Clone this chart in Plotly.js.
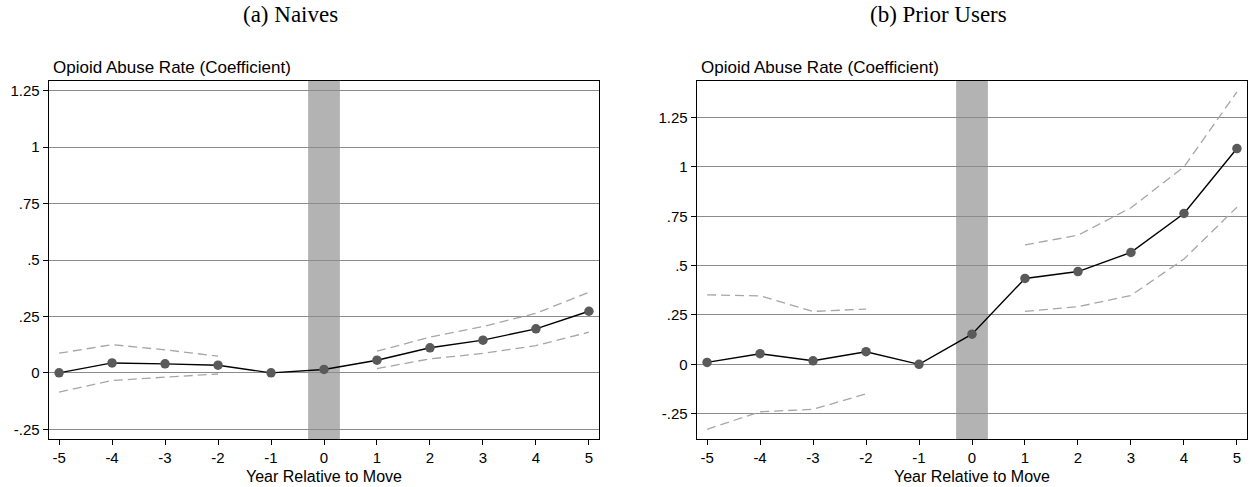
<!DOCTYPE html>
<html>
<head>
<meta charset="utf-8">
<script src="https://cdn.plot.ly/plotly-3.0.1.min.js"></script>
<style>
  html, body { margin: 0; padding: 0; background: #fff; }
  #chart { width: 1252px; height: 487px; }
</style>
</head>
<body>
<div id="chart"></div>
<script>
// years relative to move
var years = [-5, -4, -3, -2, -1, 0, 1, 2, 3, 4, 5]
var pre_years = [-5, -4, -3, -2]
var post_years = [1, 2, 3, 4, 5]

// (a) Naives
var naive_coef = [0, 0.044, 0.040, 0.034, 0, 0.015, 0.056, 0.111, 0.145, 0.195, 0.273]
var naive_pre_hi = [0.087, 0.125, 0.102, 0.074]
var naive_pre_lo = [-0.085, -0.034, -0.019, -0.005]
var naive_post_hi = [0.096, 0.158, 0.205, 0.264, 0.357]
var naive_post_lo = [0.019, 0.062, 0.086, 0.121, 0.180]

// (b) Prior Users
var prior_coef = [0.010, 0.054, 0.018, 0.064, 0, 0.153, 0.435, 0.470, 0.567, 0.764, 1.093]
var prior_pre_hi = [0.352, 0.347, 0.268, 0.280]
var prior_pre_lo = [-0.329, -0.240, -0.228, -0.149]
var prior_post_hi = [0.605, 0.654, 0.793, 1.0, 1.380]
var prior_post_lo = [0.268, 0.292, 0.349, 0.533, 0.796]

var y_tickvals = [-0.25, 0, 0.25, 0.5, 0.75, 1, 1.25]
var y_ticktext = ["-.25", "0", ".25", ".5", ".75", "1", "1.25"]
var x_tickvals = years
var x_ticktext = ["-5", "-4", "-3", "-2", "-1", "0", "1", "2", "3", "4", "5"]

var panel_titles = ["(a) Naives", "(b) Prior Users"]
var y_title = "Opioid Abuse Rate (Coefficient)"
var x_title = "Year Relative to Move"

var ci_line = {color: "#a6a6a6", width: 1.3, dash: "9px,5px"}

function ci_trace(x, y, xa, ya){
    return {x: x, y: y, xaxis: xa, yaxis: ya, mode: "lines", line: ci_line, hoverinfo: "skip"}
}

function coef_trace(y, xa, ya){
    return {
        x: years, y: y, xaxis: xa, yaxis: ya,
        mode: "lines+markers",
        line: {color: "#000000", width: 1.4},
        marker: {color: "#5a5a5a", size: 9.5}
    }
}

var traces = [
    ci_trace(pre_years, naive_pre_hi, "x", "y"),
    ci_trace(pre_years, naive_pre_lo, "x", "y"),
    ci_trace(post_years, naive_post_hi, "x", "y"),
    ci_trace(post_years, naive_post_lo, "x", "y"),
    coef_trace(naive_coef, "x", "y"),
    ci_trace(pre_years, prior_pre_hi, "x2", "y2"),
    ci_trace(pre_years, prior_pre_lo, "x2", "y2"),
    ci_trace(post_years, prior_post_hi, "x2", "y2"),
    ci_trace(post_years, prior_post_lo, "x2", "y2"),
    coef_trace(prior_coef, "x2", "y2")
]

var sans = "Liberation Sans, Arial, sans-serif"
var serif = "Liberation Serif, Times New Roman, serif"
var font_tick = {family: sans, size: 15, color: "#000"}
var font_ytitle = {family: sans, size: 17, color: "#000"}
var font_xtitle = {family: sans, size: 16, color: "#000"}
var font_panel = {family: serif, size: 23, color: "#000"}

function x_axis(domain){
    return {
        domain: domain, range: [-5.19, 5.19],
        tickmode: "array", tickvals: x_tickvals, ticktext: x_ticktext,
        ticks: "outside", ticklen: 5, tickcolor: "#000", tickwidth: 1,
        showgrid: false, zeroline: false,
        showline: true, linecolor: "#000", linewidth: 1.3, mirror: true,
        tickfont: font_tick,
        fixedrange: true
    }
}

function y_axis(domain, range, anchor){
    return {
        domain: domain, range: range, anchor: anchor,
        tickmode: "array", tickvals: y_tickvals, ticktext: y_ticktext,
        ticks: "outside", ticklen: 5, tickcolor: "#000", tickwidth: 1,
        showgrid: true, gridcolor: "#8c8c8c", gridwidth: 1,
        zeroline: false,
        showline: true, linecolor: "#000", linewidth: 1.3, mirror: true,
        tickfont: font_tick,
        fixedrange: true
    }
}

var y_dom = [1 - 439/487, 1 - 81/487]

function note(text, x, y, anchor, font){
    return {text: text, xref: "paper", yref: "paper", x: x/1252, y: 1 - y/487,
            xanchor: anchor, yanchor: "middle", showarrow: false, font: font}
}

var layout = {
    width: 1252, height: 487,
    margin: {l: 0, r: 0, t: 0, b: 0},
    paper_bgcolor: "#fff", plot_bgcolor: "#fff",
    showlegend: false,
    xaxis: x_axis([49/1252, 599/1252]),
    yaxis: y_axis(y_dom, [-0.293, 1.293], "x"),
    xaxis2: Object.assign(x_axis([697/1252, 1247/1252]), {anchor: "y2"}),
    yaxis2: y_axis(y_dom, [-0.378, 1.435], "x2"),
    shapes: [
        {type: "rect", xref: "x", yref: "y domain", x0: -0.3, x1: 0.3, y0: 0, y1: 1,
         fillcolor: "#b3b3b3", line: {width: 0}, layer: "below"},
        {type: "rect", xref: "x2", yref: "y2 domain", x0: -0.3, x1: 0.3, y0: 0, y1: 1,
         fillcolor: "#b3b3b3", line: {width: 0}, layer: "below"}
    ],
    annotations: [
        note(panel_titles[0], 290, 15, "center", font_panel),
        note(panel_titles[1], 938, 15, "center", font_panel),
        note(y_title, 51, 68, "left", font_ytitle),
        note(y_title, 699, 68, "left", font_ytitle),
        note(x_title, 324, 476, "center", font_xtitle),
        note(x_title, 972, 476, "center", font_xtitle)
    ]
}

Plotly.newPlot("chart", traces, layout, {displayModeBar: false, staticPlot: true})
</script>
</body>
</html>
